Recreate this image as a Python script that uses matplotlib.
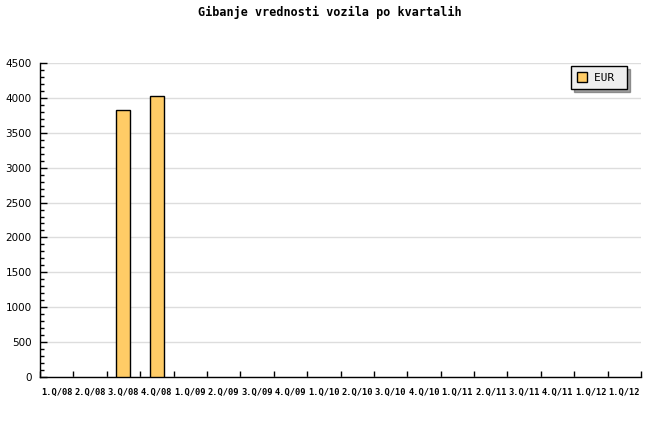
import numpy as np
import matplotlib
matplotlib.use("Agg")
import matplotlib.pyplot as plt
from matplotlib.ticker import MultipleLocator

quarters = ['1.Q/08', '2.Q/08', '3.Q/08', '4.Q/08', '1.Q/09', '2.Q/09', '3.Q/09',
            '4.Q/09', '1.Q/10', '2.Q/10', '3.Q/10', '4.Q/10', '1.Q/11', '2.Q/11',
            '3.Q/11', '4.Q/11', '1.Q/12', '1.Q/12']
eur = [0, 0, 3830, 4030, 0, 0, 0, 0, 0, 0, 0, 0, 0, 0, 0, 0, 0, 0]

fig = plt.figure(figsize=(6.6, 4.4), dpi=100)
ax = fig.add_axes([40 / 660, 1 - 377 / 440, 601 / 660, 314 / 440])

x = np.arange(len(quarters))
vals = np.array(eur, dtype=float)
mask = vals > 0
ax.bar(x[mask], vals[mask], width=0.42, color='#ffcc66', edgecolor='black',
       linewidth=1, label='EUR ', zorder=3)

ax.set_xlim(-0.5, len(quarters) - 0.5)
ax.set_ylim(0, 4500)
ax.yaxis.set_major_locator(MultipleLocator(500))
ax.yaxis.set_minor_locator(MultipleLocator(100))
ax.set_xticks(x)
ax.set_xticklabels(quarters, family='DejaVu Sans Mono', fontsize=6.3, fontweight='bold')
ax.set_xticks(np.arange(len(quarters) + 1) - 0.5, minor=True)
ax.tick_params(axis='x', which='major', length=0, pad=8)
ax.tick_params(axis='x', which='minor', direction='in', length=4, width=1)
ax.tick_params(axis='y', which='major', direction='in', length=5, width=1, labelsize=7.5, pad=6)
ax.tick_params(axis='y', which='minor', direction='in', length=3, width=1)

ax.grid(axis='y', which='major', color='#dddddd', linewidth=1, zorder=0)
for s in ['top', 'right']:
    ax.spines[s].set_visible(False)
ax.spines['left'].set_linewidth(1)
ax.spines['bottom'].set_linewidth(1)

leg = ax.legend(loc='upper right', bbox_to_anchor=(0.977, 0.99), borderaxespad=0,
                fancybox=False, shadow=True, framealpha=1, facecolor='#eeeeee',
                edgecolor='black', prop={'family': 'DejaVu Sans Mono', 'size': 8},
                handlelength=0.95, handleheight=0.95, borderpad=0.55, handletextpad=0.6)
leg.get_frame().set_linewidth(1)

fig.text(0.5, 1 - 12 / 440, 'Gibanje vrednosti vozila po kvartalih',
         ha='center', va='center', family='DejaVu Sans Mono', fontsize=8.5,
         fontweight='bold')

fig.savefig('out.png', dpi=100)
